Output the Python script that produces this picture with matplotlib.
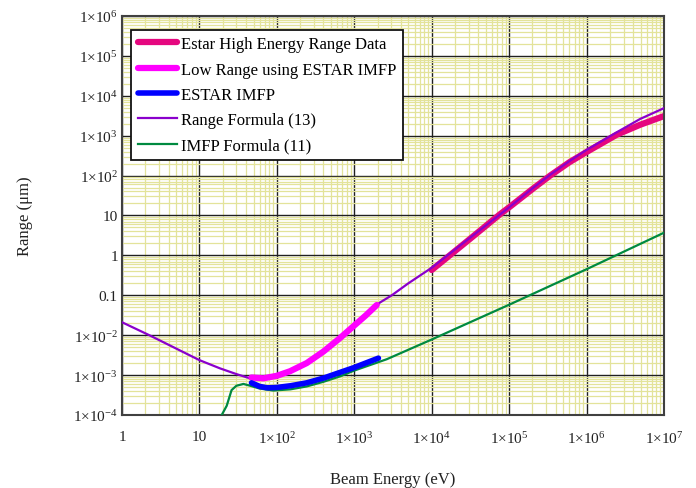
import matplotlib
matplotlib.use('Agg')
import matplotlib.pyplot as plt
from matplotlib.ticker import LogLocator, NullFormatter

plt.rcParams['font.family'] = ['Liberation Serif', 'DejaVu Serif']
plt.rcParams['mathtext.fontset'] = 'custom'
plt.rcParams['mathtext.rm'] = 'Liberation Serif'
plt.rcParams['mathtext.it'] = 'Liberation Serif:italic'
plt.rcParams['mathtext.bf'] = 'Liberation Serif:bold'

# ---- data (Beam energy in eV, range in um) ----
estar_high_E = [1e4, 3.13e4, 7.65e4, 1e5, 2.06e5, 3.39e5, 6e5, 1e6, 2.46e6, 4.93e6, 1e7]
estar_high_R = [0.43, 2.6, 10.8, 16, 48, 100, 216, 390, 1060, 1880, 3100]

low_range_E = [47, 67, 100, 148, 243, 400, 655, 1000, 1400, 1950]
low_range_R = [8.7e-4, 8.3e-4, 9.6e-4, 1.25e-3, 2.0e-3, 3.9e-3, 8.5e-3, 0.0175, 0.031, 0.057]

estar_imfp_E = [47, 60, 75, 100, 150, 243, 400, 655, 1000, 1400, 2050]
estar_imfp_R = [6.4e-4, 5.2e-4, 4.8e-4, 4.9e-4, 5.4e-4, 6.4e-4, 8.4e-4, 1.17e-3, 1.55e-3, 2.0e-3, 2.66e-3]

range_f_E = [1, 2.25, 10, 18.5, 30, 45, 67, 100, 150, 243, 400, 655, 1000,
             2150, 3050, 5000, 1e4, 3.13e4, 1e5, 2.06e5, 3.39e5, 6e5, 1e6, 2.46e6, 4.93e6, 1e7]
range_f_R = [0.0211, 0.01, 2.37e-3, 1.47e-3, 1.06e-3, 8.3e-4, 8.2e-4, 9.5e-4, 1.25e-3,
             2.0e-3, 3.9e-3, 8.5e-3, 0.0175, 0.066, 0.1, 0.2, 0.49, 2.77, 16, 50, 105,
             230, 440, 1220, 2630, 4900]

imfp_f_E = [18, 19.4, 22.5, 26, 30, 37, 47, 60, 90, 150, 243, 400, 655, 1000,
            2630, 1e4, 2.1e4, 1e5, 1e6, 1e7]
imfp_f_R = [7e-5, 1e-4, 1.7e-4, 4.2e-4, 5.4e-4, 6.0e-4, 5.3e-4, 4.6e-4, 4.1e-4, 4.4e-4,
            5.2e-4, 6.8e-4, 9.3e-4, 1.3e-3, 2.5e-3, 7.8e-3, 0.0149, 0.058, 0.45, 3.7]

x_ticks = [1, 10, 1e2, 1e3, 1e4, 1e5, 1e6, 1e7]
x_labels = ['1', '10', r'$1{\times}10^{2}$', r'$1{\times}10^{3}$', r'$1{\times}10^{4}$',
            r'$1{\times}10^{5}$', r'$1{\times}10^{6}$', r'$1{\times}10^{7}$']
y_ticks = [1e-4, 1e-3, 1e-2, 0.1, 1, 10, 1e2, 1e3, 1e4, 1e5, 1e6]
y_labels = [r'$1{\times}10^{-4}$', r'$1{\times}10^{-3}$', r'$1{\times}10^{-2}$', '0.1', '1', '10',
            r'$1{\times}10^{2}$', r'$1{\times}10^{3}$', r'$1{\times}10^{4}$',
            r'$1{\times}10^{5}$', r'$1{\times}10^{6}$']

fig = plt.figure(figsize=(6.96, 4.89), dpi=100)
ax = fig.add_axes([0.1753, 0.1493, 0.7787, 0.8160])
ax.set_xscale('log')
ax.set_yscale('log')
ax.set_xlim(1, 1e7)
ax.set_ylim(1e-4, 1e6)

# grid
ax.xaxis.set_minor_locator(LogLocator(base=10, subs=range(2, 10), numticks=100))
ax.yaxis.set_minor_locator(LogLocator(base=10, subs=range(2, 10), numticks=100))
ax.xaxis.set_minor_formatter(NullFormatter())
ax.yaxis.set_minor_formatter(NullFormatter())
ax.grid(which='minor', color='#e3e39a', lw=0.9, zorder=0)
ax.grid(which='major', color='#202020', lw=1.0, zorder=1)
ax.set_axisbelow(True)

ax.plot(range_f_E, range_f_R, color='#8a00cc', lw=1.6, zorder=3, label='Range Formula (13)')
ax.plot(estar_high_E, estar_high_R, color='#e5077f', lw=4.5, zorder=2.5,
        label='Estar High Energy Range Data', solid_capstyle='round')
ax.plot(low_range_E, low_range_R, color='#ff00ff', lw=4.5, zorder=4,
        label='Low Range using ESTAR IMFP', solid_capstyle='round')
ax.plot(imfp_f_E, imfp_f_R, color='#008a40', lw=1.6, zorder=3, label='IMFP Formula (11)')
ax.plot(estar_imfp_E, estar_imfp_R, color='#0000ff', lw=4.0, zorder=4,
        label='ESTAR IMFP', solid_capstyle='round')

ax.set_xticks(x_ticks)
ax.set_xticklabels(x_labels)
ax.set_yticks(y_ticks)
ax.set_yticklabels(y_labels)
ax.tick_params(which='both', length=0, labelsize=11, colors='#222222')
ax.tick_params(axis='x', pad=11)
ax.tick_params(axis='y', pad=3)

for s in ax.spines.values():
    s.set_color('#404040')
    s.set_linewidth(1.5)

ax.set_xlabel('Beam Energy (eV)', fontsize=12, labelpad=18, color='#222222')
ax.set_ylabel('Range (μm)', fontsize=12, labelpad=29, color='#222222')

handles, labels = ax.get_legend_handles_labels()
order = ['Estar High Energy Range Data', 'Low Range using ESTAR IMFP', 'ESTAR IMFP',
         'Range Formula (13)', 'IMFP Formula (11)']
hd = dict(zip(labels, handles))
leg = ax.legend([hd[k] for k in order], order, loc='upper left',
                bbox_to_anchor=(0.0166, 0.966), borderaxespad=0, fontsize=12,
                frameon=True, fancybox=False, edgecolor='#111111', framealpha=1,
                handlelength=2.35, handletextpad=0.25, labelspacing=0.56,
                borderpad=0.4)
leg.get_frame().set_linewidth(1.3)
leg.set_zorder(10)

fig.savefig('out.png', dpi=100, facecolor='white')
